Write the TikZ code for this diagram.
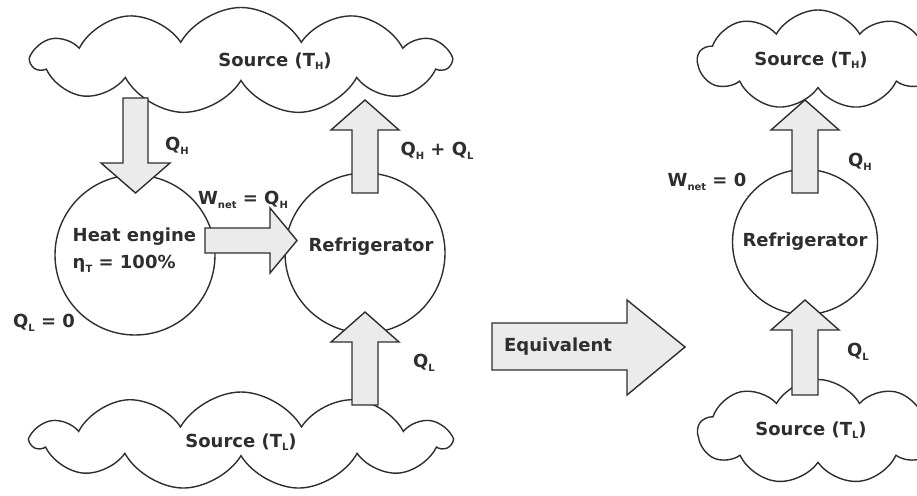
\documentclass[tikz,border=0pt]{standalone}
\usepackage{fontspec}
\setmainfont{DejaVu Sans}
\usetikzlibrary{shapes.symbols}
\definecolor{lc}{HTML}{2E2E2E}
\definecolor{af}{HTML}{EBEBEB}
\newcommand\sbx[1]{\raisebox{-0.35ex}{\fontsize{10}{10}\selectfont #1}}
\begin{document}
\begin{tikzpicture}[x=1pt,y=-1pt, line width=1.4pt,
  lbl/.style={font=\fontsize{18}{21}\selectfont\bfseries, text=lc, inner sep=0},
  blk/.style={draw=lc, fill=af, line join=miter},
  cl/.style={cloud, draw=lc, cloud puffs=11, cloud puff arc=120, inner sep=0},
  ring/.style={circle, draw=lc, inner sep=0}]
\useasboundingbox (0,0) rectangle (917,495);
% clouds
\node[cl, minimum width=417pt, minimum height=107pt] (hotL) at (241,61) {};
\node[cl, minimum width=417pt, minimum height=98pt] (coldL) at (241,441) {};
\node[cl, cloud puffs=9, minimum width=240pt, minimum height=100pt] (hotR) at (818,60) {};
\node[cl, cloud puffs=9, minimum width=240pt, minimum height=105pt] (coldR) at (818,432) {};
% circles
\node[ring, minimum size=160pt] (eng) at (135,255) {};
\node[ring, minimum size=160pt] (refL) at (365,253) {};
\node[ring, minimum size=145pt] (refR) at (805,242) {};
% block arrows
\draw[blk] (123,98) -- (148,98) -- (148,163) -- (170,163) -- (135.5,193) -- (101,163) -- (123,163) -- cycle;
\draw[blk] (352,193) -- (352,130) -- (331,130) -- (365,100) -- (399,130) -- (378,130) -- (378,193) -- cycle;
\draw[blk] (352,405) -- (352,342) -- (331,342) -- (365,312) -- (399,342) -- (378,342) -- (378,405) -- cycle;
\draw[blk] (205,228) -- (270,228) -- (270,208) -- (297,240.5) -- (270,273) -- (270,253) -- (205,253) -- cycle;
\draw[blk] (492,323) -- (627,323) -- (627,300) -- (685,347) -- (627,395) -- (627,370) -- (492,370) -- cycle;
\draw[blk] (792,193) -- (792,130) -- (771,130) -- (805,100) -- (839,130) -- (818,130) -- (818,193) -- cycle;
\draw[blk] (792,395) -- (792,330) -- (771,330) -- (805,300) -- (839,330) -- (818,330) -- (818,395) -- cycle;
% labels
\node[lbl] at (275,61) {Source (T\sbx{H})};
\node[lbl] at (241,442) {Source (T\sbx{L})};
\node[lbl] at (177,146) {Q\sbx{H}};
\node[lbl] at (243,200) {W\sbx{net} = Q\sbx{H}};
\node[lbl, anchor=west] at (72,237) {Heat engine};
\node[lbl, anchor=west] at (72,264) {η\sbx{T} = 100\%};
\node[lbl] at (371,247) {Refrigerator};
\node[lbl] at (437,151) {Q\sbx{H} + Q\sbx{L}};
\node[lbl] at (424,363) {Q\sbx{L}};
\node[lbl] at (44,323) {Q\sbx{L} = 0};
\node[lbl] at (558,347) {Equivalent};
\node[lbl] at (811,60) {Source (T\sbx{H})};
\node[lbl] at (860,162) {Q\sbx{H}};
\node[lbl] at (707,182) {W\sbx{net} = 0};
\node[lbl] at (805,242) {Refrigerator};
\node[lbl] at (858,352) {Q\sbx{L}};
\node[lbl] at (811,430) {Source (T\sbx{L})};
\end{tikzpicture}
\end{document}
